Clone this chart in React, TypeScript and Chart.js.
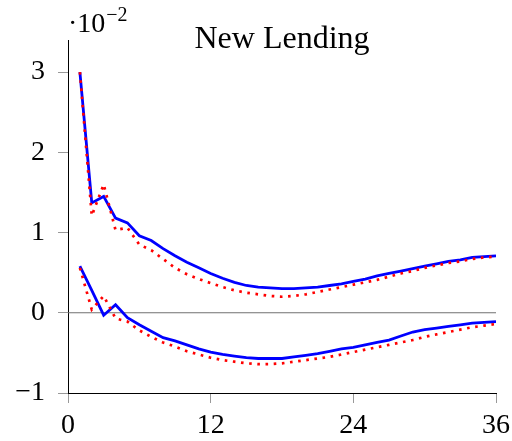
import React, { useEffect, useRef } from "react";
import { Chart, registerables } from "chart.js";
Chart.register(...registerables);

const periods = [1, 2, 3, 4, 5, 6, 7, 8, 9, 10, 11, 12, 13, 14, 15, 16, 17, 18, 19, 20, 21, 22, 23, 24, 25, 26, 27, 28, 29, 30, 31, 32, 33, 34, 35, 36];
const upperBlue = [3.0, 1.37, 1.45, 1.18, 1.12, 0.96, 0.9, 0.8, 0.71, 0.63, 0.56, 0.49, 0.43, 0.38, 0.34, 0.32, 0.31, 0.3, 0.3, 0.31, 0.32, 0.34, 0.36, 0.39, 0.42, 0.46, 0.49, 0.52, 0.55, 0.58, 0.61, 0.64, 0.66, 0.69, 0.7, 0.71];
const upperRed = [3.0, 1.21, 1.6, 1.03, 1.06, 0.85, 0.78, 0.67, 0.56, 0.48, 0.42, 0.37, 0.32, 0.28, 0.25, 0.23, 0.21, 0.2, 0.21, 0.23, 0.26, 0.29, 0.32, 0.35, 0.38, 0.41, 0.45, 0.49, 0.52, 0.56, 0.59, 0.62, 0.64, 0.67, 0.69, 0.7];
const lowerBlue = [0.58, 0.28, -0.03, 0.1, -0.06, -0.15, -0.23, -0.31, -0.35, -0.4, -0.45, -0.49, -0.52, -0.54, -0.56, -0.57, -0.57, -0.57, -0.55, -0.53, -0.51, -0.48, -0.45, -0.43, -0.4, -0.37, -0.34, -0.29, -0.24, -0.21, -0.19, -0.17, -0.15, -0.13, -0.12, -0.11];
const lowerRed = [0.56, 0.04, 0.21, -0.07, -0.11, -0.22, -0.3, -0.37, -0.42, -0.48, -0.52, -0.56, -0.59, -0.61, -0.63, -0.64, -0.64, -0.63, -0.61, -0.59, -0.57, -0.55, -0.52, -0.49, -0.46, -0.43, -0.4, -0.37, -0.34, -0.3, -0.27, -0.24, -0.21, -0.18, -0.16, -0.14];
const zeroLineX = [0, 36];
const zeroLineY = [0, 0];
const xTicks = [0, 12, 24, 36];
const yTicks = [-1, 0, 1, 2, 3];
const titleText = "New Lending";
const scaleBase = "·10";
const scaleExp = "−2";

const SERIF = '"Liberation Serif", "DejaVu Serif", serif';

function pts(xs: number[], ys: number[]) {
  return xs.map((x, i) => ({ x, y: ys[i] }));
}

export default function App() {
  const ref = useRef<HTMLCanvasElement>(null);
  useEffect(() => {
    const canvas = ref.current;
    if (!canvas) return;
    const overlay = {
      id: "overlay",
      afterDraw(chart: any) {
        const ctx = chart.ctx;
        const a = chart.chartArea;
        ctx.save();
        ctx.fillStyle = "#000";
        ctx.textBaseline = "alphabetic";
        ctx.textAlign = "center";
        ctx.font = `32px ${SERIF}`;
        ctx.fillText(titleText, (a.left + a.right) / 2, a.top + 8);
        ctx.textAlign = "left";
        ctx.font = `28px ${SERIF}`;
        ctx.fillText(scaleBase, a.left, 32);
        const w = ctx.measureText(scaleBase).width;
        ctx.font = `20px ${SERIF}`;
        ctx.fillText(scaleExp, a.left + w + 1, 21);
        ctx.restore();
      },
    };
    const line = (data: any, color: string, dash: number[] | undefined, width: number) => ({
      data,
      borderColor: color,
      backgroundColor: color,
      borderWidth: width,
      borderDash: dash,
      pointRadius: 0,
      tension: 0,
      fill: false,
    });
    const chart = new Chart(canvas, {
      type: "line",
      data: {
        datasets: [
          line(pts(periods, upperRed), "#ff0000", [2.6, 5.6], 2.7),
          line(pts(periods, lowerRed), "#ff0000", [2.6, 5.6], 2.7),
          line(pts(periods, upperBlue), "#0000ff", undefined, 2.8),
          line(pts(periods, lowerBlue), "#0000ff", undefined, 2.8),
          line(pts(zeroLineX, zeroLineY), "#707070", undefined, 1.2),
        ],
      },
      options: {
        animation: false,
        responsive: false,
        devicePixelRatio: 1,
        layout: { padding: { left: 0, top: 40, right: 16, bottom: 0 } },
        plugins: { legend: { display: false }, tooltip: { enabled: false }, title: { display: false } },
        scales: {
          x: {
            type: "linear",
            min: 0,
            max: 36,
            afterFit: (s: any) => { s.height = 48; s.paddingLeft = 0; s.paddingRight = 0; },
            afterBuildTicks: (s: any) => { s.ticks = xTicks.map((v) => ({ value: v })); },
            grid: { drawOnChartArea: false, drawTicks: true, tickLength: 10, tickColor: "#999", tickWidth: 1 },
            border: { display: true, color: "#000", width: 1 },
            ticks: { color: "#000", font: { family: SERIF, size: 28 }, padding: 6, maxRotation: 0, autoSkip: false },
          },
          y: {
            type: "linear",
            min: -1,
            max: 3.4,
            afterFit: (s: any) => { s.width = 68; s.paddingTop = 0; s.paddingBottom = 0; },
            afterBuildTicks: (s: any) => { s.ticks = yTicks.map((v) => ({ value: v })); },
            grid: { drawOnChartArea: false, drawTicks: true, tickLength: 10, tickColor: "#999", tickWidth: 1 },
            border: { display: true, color: "#000", width: 1 },
            ticks: {
              color: "#000",
              font: { family: SERIF, size: 28 },
              padding: 13,
              autoSkip: false,
              callback: (v: any) => String(v).replace("-", "−"),
            },
          },
        },
      },
      plugins: [overlay],
    });
    return () => chart.destroy();
  }, []);
  return (
    <div style={{ position: "absolute", left: 0, top: 0, width: 512, height: 441, background: "#fff" }}>
      <canvas ref={ref} width={512} height={441} style={{ width: 512, height: 441, display: "block" }} />
    </div>
  );
}
